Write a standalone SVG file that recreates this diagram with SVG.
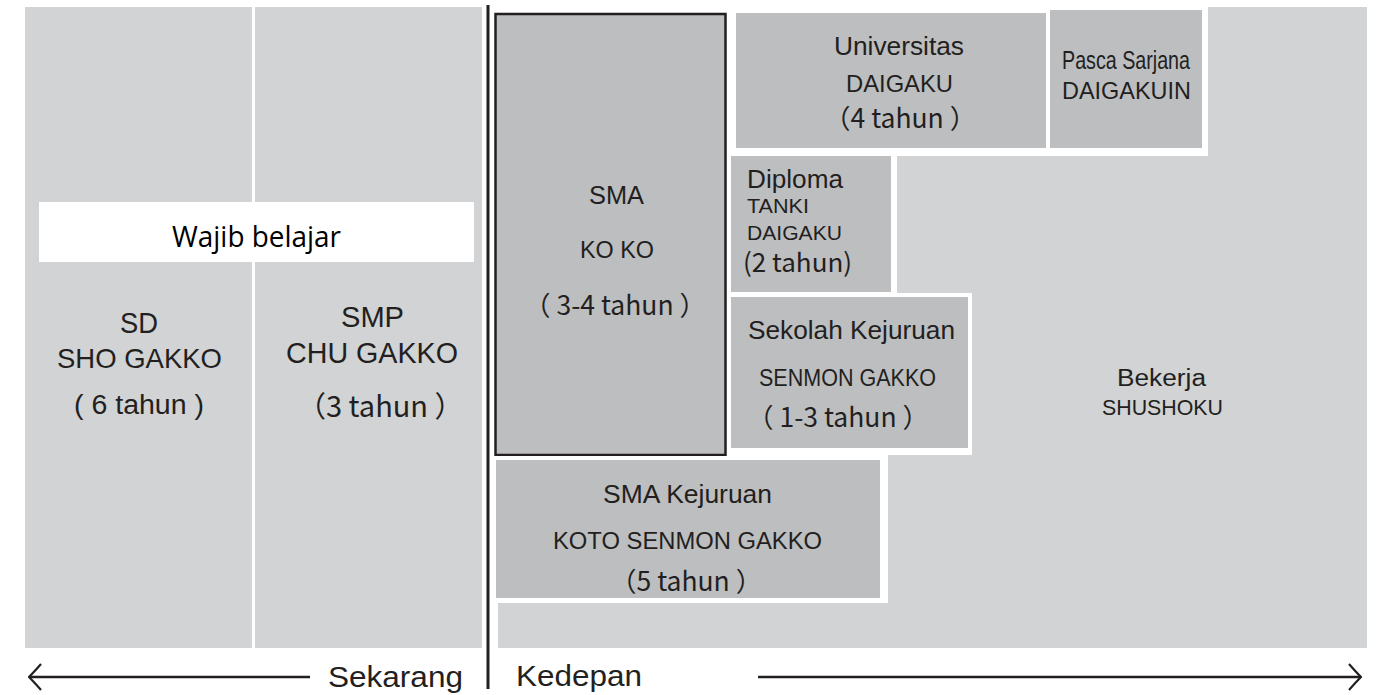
<svg xmlns="http://www.w3.org/2000/svg" width="1376" height="695" viewBox="0 0 1376 695">
<style>
.light{fill:#d1d3d4}
.dark{fill:#bcbec0;stroke:#ffffff;stroke-width:4}
.sans{font-family:"Liberation Sans",Arial,sans-serif;fill:#231f20}
.jp{font-family:"Noto Sans CJK JP","Noto Sans",sans-serif;fill:#231f20}
.ln{stroke:#231f20;fill:none}
</style>
<defs>
<marker id="chev" viewBox="0 0 14 28" refX="13" refY="14" markerWidth="14" markerHeight="28" markerUnits="userSpaceOnUse" orient="auto-start-reverse">
<path d="M1,1 Q8,9 13,14 Q8,19 1,27" fill="none" stroke="#231f20" stroke-width="2.2"/>
</marker>
</defs>
<rect width="1376" height="695" fill="#ffffff"/>

<g id="sd">
<rect class="light" x="25" y="7" width="227" height="641"/>
<text class="sans" x="120" y="333" font-size="29" textLength="38" lengthAdjust="spacingAndGlyphs">SD</text>
<text class="sans" x="57" y="368" font-size="28" textLength="165" lengthAdjust="spacingAndGlyphs">SHO GAKKO</text>
<text class="sans" x="74" y="414" font-size="27" textLength="130" lengthAdjust="spacingAndGlyphs">( 6 tahun )</text>
</g>

<g id="smp">
<rect class="light" x="255" y="7" width="227" height="641"/>
<text class="sans" x="341" y="327" font-size="29" textLength="63" lengthAdjust="spacingAndGlyphs">SMP</text>
<text class="sans" x="286" y="363" font-size="29" textLength="172" lengthAdjust="spacingAndGlyphs">CHU GAKKO</text>
<text class="jp" x="297" y="417" font-size="29">（3 tahun ）</text>
</g>

<g id="wajib">
<rect x="39" y="202" width="435" height="60" fill="#ffffff"/>
<text x="172" y="247" font-family="'Open Sans',Lato,sans-serif" font-size="29" fill="#000000" textLength="169" lengthAdjust="spacingAndGlyphs">Wajib belajar</text>
</g>

<g id="bekerja">
<polygon class="light" points="1208,7 1367,7 1367,648 498,648 498,603 888,603 888,455 972,455 972,293 897,293 897,156 1208,156"/>
<text class="sans" x="1117" y="386" font-size="23" textLength="89" lengthAdjust="spacingAndGlyphs">Bekerja</text>
<text class="sans" x="1102" y="415" font-size="22" textLength="121" lengthAdjust="spacingAndGlyphs">SHUSHOKU</text>
</g>

<g id="sma">
<rect x="495.5" y="14" width="230" height="441" fill="#bcbec0" stroke="#231f20" stroke-width="2.5"/>
<text class="sans" x="589" y="204" font-size="25" textLength="55" lengthAdjust="spacingAndGlyphs">SMA</text>
<text class="sans" x="580" y="258" font-size="23" textLength="74" lengthAdjust="spacingAndGlyphs">KO KO</text>
<text class="jp" x="524" y="315" font-size="26.5">（ 3-4 tahun ）</text>
</g>

<g id="universitas">
<rect class="dark" x="734" y="11" width="314" height="139"/>
<text class="sans" x="834" y="55" font-size="25" textLength="130" lengthAdjust="spacingAndGlyphs">Universitas</text>
<text class="sans" x="846" y="92" font-size="24" textLength="107" lengthAdjust="spacingAndGlyphs">DAIGAKU</text>
<text class="jp" x="824" y="128" font-size="26.5">（4 tahun ）</text>
</g>

<g id="pasca">
<rect class="dark" x="1048" y="8" width="156" height="142"/>
<text class="sans" x="1062" y="69" font-size="25" textLength="128" lengthAdjust="spacingAndGlyphs">Pasca Sarjana</text>
<text class="sans" x="1062" y="99" font-size="24" textLength="129" lengthAdjust="spacingAndGlyphs">DAIGAKUIN</text>
</g>

<g id="diploma">
<rect class="dark" x="729" y="154" width="164" height="140"/>
<text class="sans" x="747" y="188" font-size="25" textLength="96" lengthAdjust="spacingAndGlyphs">Diploma</text>
<text class="sans" x="747" y="213" font-size="20" textLength="62" lengthAdjust="spacingAndGlyphs">TANKI</text>
<text class="sans" x="747" y="240" font-size="21" textLength="95" lengthAdjust="spacingAndGlyphs">DAIGAKU</text>
<text class="jp" x="743" y="272" font-size="26">(2 tahun)</text>
</g>

<g id="sekolah">
<rect class="dark" x="729" y="295" width="241" height="155"/>
<text class="sans" x="748" y="339" font-size="26" textLength="207" lengthAdjust="spacingAndGlyphs">Sekolah Kejuruan</text>
<text class="sans" x="759" y="386" font-size="23" textLength="177" lengthAdjust="spacingAndGlyphs">SENMON GAKKO</text>
<text class="jp" x="747" y="427" font-size="26.5">（ 1-3 tahun ）</text>
</g>

<g id="smakejuruan">
<rect class="dark" x="494" y="458" width="388" height="142"/>
<text class="sans" x="603" y="503" font-size="26" textLength="169" lengthAdjust="spacingAndGlyphs">SMA Kejuruan</text>
<text class="sans" x="553" y="549" font-size="23" textLength="269" lengthAdjust="spacingAndGlyphs">KOTO SENMON GAKKO</text>
<text class="jp" x="610" y="591" font-size="26.5">（5 tahun ）</text>
</g>

<g id="timeline">
<text class="sans" x="328" y="687" font-size="30" textLength="135" lengthAdjust="spacingAndGlyphs">Sekarang</text>
<text class="sans" x="516" y="686" font-size="30" textLength="126" lengthAdjust="spacingAndGlyphs">Kedepan</text>
</g>

<g id="connectors">
<line class="ln" x1="488" y1="5" x2="488" y2="689" stroke-width="3"/>
<line class="ln" x1="310" y1="677" x2="29" y2="677" stroke-width="2.5" marker-end="url(#chev)"/>
<line class="ln" x1="758" y1="677" x2="1361" y2="677" stroke-width="2.5" marker-end="url(#chev)"/>
</g>
</svg>
